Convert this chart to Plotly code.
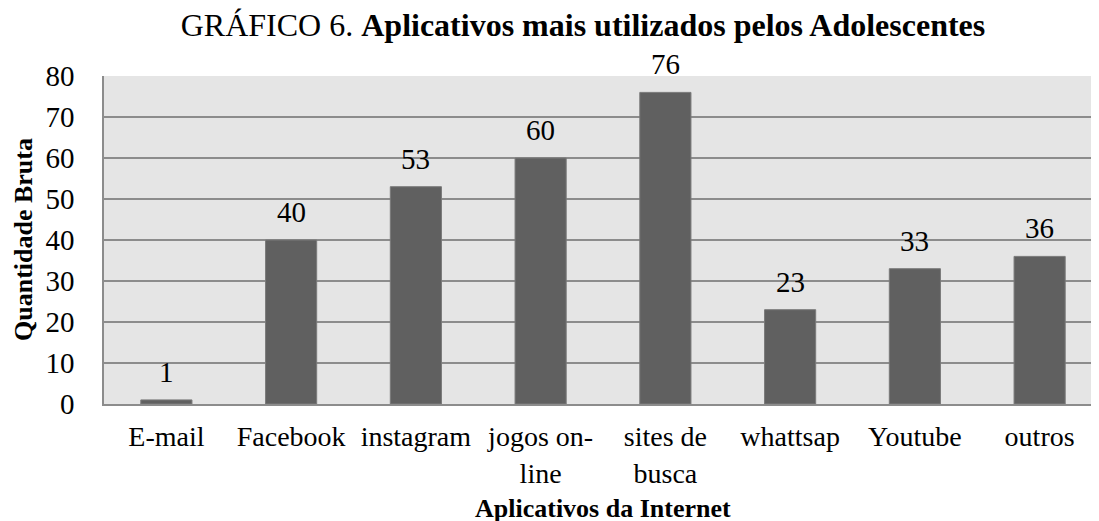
import plotly.graph_objects as go

categories = ["E-mail", "Facebook", "instagram", "jogos on-<br>line", "sites de<br>busca", "whattsap", "Youtube", "outros"]
values = [1, 40, 53, 60, 76, 23, 33, 36]
y_ticks = [0, 10, 20, 30, 40, 50, 60, 70, 80]

serif = "Liberation Serif, Times New Roman, serif"

# page body has an 8px margin; figure coords = viewport coords - 8
OFF = 8
W, H = 1099, 521
L, T, R_EDGE, B_EDGE = 104 - OFF, 76 - OFF, 1099 - OFF, 404 - OFF
pw, ph = R_EDGE - L, B_EDGE - T

fig = go.Figure()
fig.add_trace(go.Bar(
    x=categories, y=values,
    marker=dict(color="#606060", line=dict(color="#7a7a7a", width=1)),
    hoverinfo="skip",
))

for c, v in zip(categories, values):
    fig.add_annotation(x=c, y=v, text=str(v), showarrow=False, yanchor="bottom",
                       yshift=10, font=dict(family=serif, size=29, color="black"))

fig.add_annotation(x=(603 - OFF - L) / pw, y=(B_EDGE - (508 - OFF)) / ph, xref="paper", yref="paper",
                   text="<b>Aplicativos da Internet</b>", showarrow=False,
                   xanchor="center", yanchor="middle",
                   font=dict(family=serif, size=26, color="black"))
fig.add_annotation(x=(23 - OFF - L) / pw, y=0.5, xref="paper", yref="paper",
                   text="<b>Quantidade Bruta</b>", showarrow=False, textangle=-90,
                   xanchor="center", yanchor="middle",
                   font=dict(family=serif, size=26, color="black"))

fig.update_layout(
    width=W, height=H,
    margin=dict(l=L, r=W - R_EDGE, t=T, b=H - B_EDGE),
    paper_bgcolor="white", plot_bgcolor="#e5e5e5",
    bargap=0.59, showlegend=False,
    title=dict(text="GRÁFICO 6. <b>Aplicativos mais utilizados pelos Adolescentes</b>",
               x=(583 - OFF) / W, xanchor="center", xref="container",
               y=1 - (25 - OFF) / H, yanchor="middle", yref="container",
               font=dict(family=serif, size=32, color="black")),
    font=dict(family=serif, color="black"),
)
fig.update_xaxes(range=[-0.5, 7.476], showline=True, linecolor="#8c8c8c", linewidth=1.5,
                 ticks="", tickfont=dict(family=serif, size=28, color="black"),
                 ticklabelstandoff=7, showgrid=False, fixedrange=True)
fig.update_yaxes(range=[0, 80], tickvals=y_ticks, showline=True, linecolor="#8c8c8c", linewidth=1.5,
                 gridcolor="#8c8c8c", gridwidth=1.5, zeroline=False, ticks="",
                 tickfont=dict(family=serif, size=29, color="black"),
                 ticklabelstandoff=22, fixedrange=True)

fig.write_html("out.html")
